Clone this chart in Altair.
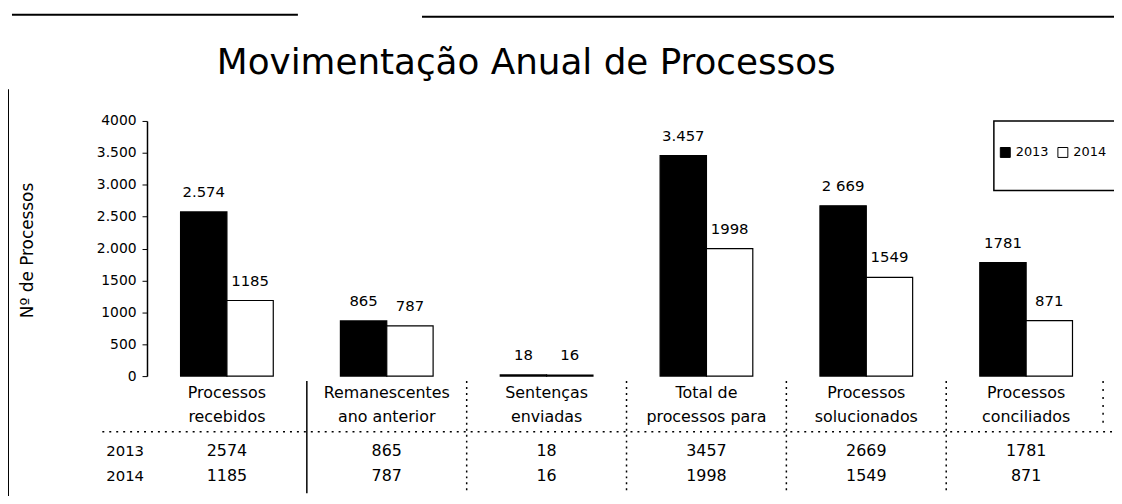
import altair as alt
import pandas as pd

# ---- data ----
title_text = "Movimentação Anual de Processos"
categories = [
    "Processos\nrecebidos",
    "Remanescentes\nano anterior",
    "Sentenças\nenviadas",
    "Total de\nprocessos para",
    "Processos\nsolucionados",
    "Processos\nconciliados",
]
years = ["2013", "2014"]
values_2013 = [2574, 865, 18, 3457, 2669, 1781]
values_2014 = [1185, 787, 16, 1998, 1549, 871]
labels_2013 = ["2.574", "865", "18", "3.457", "2 669", "1781"]
labels_2014 = ["1185", "787", "16", "1998", "1549", "871"]
y_ticks = [0, 500, 1000, 1500, 2000, 2500, 3000, 3500, 4000]
y_tick_labels = ["0", "500", "1000", "1500", "2.000", "2.500", "3.000", "3.500", "4000"]

FONT = "DejaVu Sans"

rows = []
for c, v, l in zip(categories, values_2013, labels_2013):
    rows.append({"cat": c, "year": "2013", "value": v, "label": l})
for c, v, l in zip(categories, values_2014, labels_2014):
    rows.append({"cat": c, "year": "2014", "value": v, "label": l})
df = pd.DataFrame(rows)
df_cat = pd.DataFrame({"cat": categories, "idx": list(range(len(categories)))})
df_one = pd.DataFrame({"a": [0]})
df_title = pd.DataFrame({"t": [title_text]})

label_expr = " : ".join(
    f"datum.value == {t} ? '{s}'" for t, s in zip(y_ticks, y_tick_labels)
) + " : ''"

WIDTH = 966
P_INNER = 0.42
XSCALE = alt.Scale(paddingInner=P_INNER, paddingOuter=P_INNER / 2)
xenc = alt.X("cat:N", sort=categories, scale=XSCALE, axis=None)
HALF_GAP = -(WIDTH / len(categories)) * P_INNER / 2

YAXIS = alt.Axis(
    values=y_ticks,
    labelExpr=label_expr,
    labelOverlap=False,
    labelBound=False,
    title="Nº de Processos",
    titleFont=FONT,
    titleFontSize=17,
    titleFontWeight="normal",
    titleColor="black",
    titleX=-120,
    titleY=130,
    titleAngle=-90,
    titleAlign="center",
    titleBaseline="middle",
    labelFont=FONT,
    labelFontSize=14,
    labelColor="black",
    labelPadding=6,
    tickSize=5,
    tickColor="black",
    domainColor="black",
    domainWidth=1.5,
    grid=False,
)
yenc = alt.Y("value:Q", scale=alt.Scale(domain=[0, 4000], nice=False), axis=YAXIS)

base = alt.Chart(df)

bars = base.mark_bar(stroke="black", strokeWidth=1.2).encode(
    x=xenc,
    xOffset=alt.XOffset("year:N", sort=years, scale=alt.Scale(paddingInner=0, paddingOuter=0)),
    y=yenc,
    color=alt.Color(
        "year:N",
        sort=years,
        scale=alt.Scale(domain=years, range=["black", "white"]),
        legend=alt.Legend(
            title=None,
            orient="none",
            legendX=858,
            legendY=25,
            direction="horizontal",
            padding=0,
            symbolType="square",
            symbolSize=100,
            symbolStrokeColor="black",
            symbolStrokeWidth=1,
            labelFont=FONT,
            labelFontSize=13,
            labelColor="black",
            labelOffset=4,
            columnPadding=6,
        ),
    ),
)

bar_labels = base.mark_text(
    baseline="bottom", dy=-12, fontSize=15, font=FONT, color="black"
).encode(
    x=xenc,
    xOffset=alt.XOffset("year:N", sort=years),
    y=yenc,
    text="label:N",
)

legend_box = alt.Chart(df_one).mark_rect(fill="white", stroke="black", strokeWidth=1.5).encode(
    x=alt.value(853), x2=alt.value(1010), y=alt.value(0), y2=alt.value(70)
)

title_mark = alt.Chart(df_title).mark_text(
    baseline="alphabetic", align="center", fontSize=36, font=FONT, color="black"
).encode(x=alt.value(382), y=alt.value(-47), text="t:N")

cat_text = alt.Chart(df_cat).mark_text(
    baseline="middle", lineBreak="\n", lineHeight=24, fontSize=16, font=FONT, color="black"
).encode(x=xenc, y=alt.value(274), text="cat:N")

row13 = alt.Chart(df).transform_filter("datum.year == '2013'").mark_text(
    baseline="middle", fontSize=16, font=FONT, color="black"
).encode(x=xenc, y=alt.value(332), text="value:Q")
row14 = alt.Chart(df).transform_filter("datum.year == '2014'").mark_text(
    baseline="middle", fontSize=16, font=FONT, color="black"
).encode(x=xenc, y=alt.value(358), text="value:Q")

year_df = pd.DataFrame({"year": years})
rowlab13 = alt.Chart(year_df).transform_filter("datum.year == '2013'").mark_text(
    baseline="middle", fontSize=15, font=FONT, color="black"
).encode(x=alt.value(-22), y=alt.value(332), text="year:N")
rowlab14 = alt.Chart(year_df).transform_filter("datum.year == '2014'").mark_text(
    baseline="middle", fontSize=15, font=FONT, color="black"
).encode(x=alt.value(-22), y=alt.value(358), text="year:N")

# table grid lines at the band boundaries
xband0 = alt.X("cat:N", sort=categories, bandPosition=0, scale=XSCALE, axis=None)
col_lines = alt.Chart(df_cat).transform_filter("datum.idx > 1").mark_rule(
    color="black", strokeWidth=1.5, strokeDash=[2, 4], xOffset=HALF_GAP
).encode(x=xband0, y=alt.value(262), y2=alt.value(375))
first_col_line = alt.Chart(df_cat).transform_filter("datum.idx == 1").mark_rule(
    color="black", strokeWidth=1.5, xOffset=HALF_GAP
).encode(x=xband0, y=alt.value(262), y2=alt.value(375))
right_line = alt.Chart(df_one).mark_rule(color="black", strokeWidth=1.5, strokeDash=[2, 6]).encode(
    x=alt.value(963), y=alt.value(262), y2=alt.value(310)
)
row_sep = alt.Chart(df_one).mark_rule(color="black", strokeWidth=1.5, strokeDash=[2, 5]).encode(
    x=alt.value(-45), x2=alt.value(974), y=alt.value(313)
)

# outer frame fragments
frame_left = alt.Chart(df_one).mark_rule(color="black", strokeWidth=2).encode(
    x=alt.value(-140), y=alt.value(-32), y2=alt.value(384)
)
frame_top1 = alt.Chart(df_one).mark_rule(color="black", strokeWidth=2).encode(
    x=alt.value(-136), x2=alt.value(152), y=alt.value(-107)
)
frame_top2 = alt.Chart(df_one).mark_rule(color="black", strokeWidth=2).encode(
    x=alt.value(277), x2=alt.value(980), y=alt.value(-105)
)

chart = alt.layer(
    legend_box, bars, bar_labels, title_mark, cat_text, row13, row14, rowlab13, rowlab14,
    col_lines, first_col_line, right_line, row_sep, frame_left, frame_top1, frame_top2,
).properties(
    width=WIDTH,
    height=257,
    background="white",
    autosize=alt.AutoSizeParams(type="none"),
    padding={"left": 140, "top": 112, "right": 8, "bottom": 119},
).configure_view(stroke=None)

chart.save("out.html", embed_options={"renderer": "svg", "actions": False})
